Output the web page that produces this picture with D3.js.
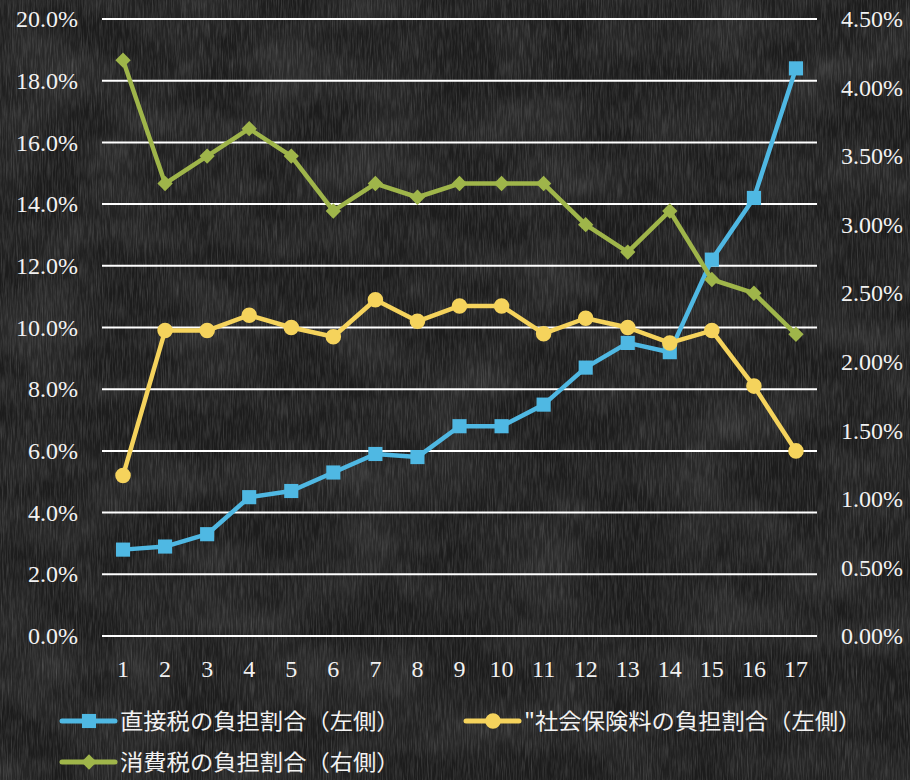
<!DOCTYPE html>
<html>
<head>
<meta charset="utf-8">
<script src="https://cdn.jsdelivr.net/npm/d3@7"></script>
<style>
  html, body { margin: 0; padding: 0; background: #1c1c1c; }
  svg { display: block; }
</style>
</head>
<body>
<svg id="chart" width="910" height="780"></svg>
<script>
// Categories along the x axis
const categories = ["1","2","3","4","5","6","7","8","9","10","11","12","13","14","15","16","17"];

// Share of direct taxes (left axis, %)
const directTax = [2.8, 2.9, 3.3, 4.5, 4.7, 5.3, 5.9, 5.8, 6.8, 6.8, 7.5, 8.7, 9.5, 9.2, 12.2, 14.2, 18.4];
// Share of social insurance premiums (left axis, %)
const socialInsurance = [5.2, 9.9, 9.9, 10.4, 10.0, 9.7, 10.9, 10.2, 10.7, 10.7, 9.8, 10.3, 10.0, 9.5, 9.9, 8.1, 6.0];
// Share of consumption tax (right axis, %)
const consumptionTax = [4.2, 3.3, 3.5, 3.7, 3.5, 3.1, 3.3, 3.2, 3.3, 3.3, 3.3, 3.0, 2.8, 3.1, 2.6, 2.5, 2.2];

// Axis ticks
const leftTicks = [0, 2, 4, 6, 8, 10, 12, 14, 16, 18, 20];
const rightTicks = [0, 0.5, 1, 1.5, 2, 2.5, 3, 3.5, 4, 4.5];

// Legend entries
const seriesNames = ["直接税の負担割合（左側）", "\"社会保険料の負担割合（左側）", "消費税の負担割合（右側）"];

const W = 910, H = 780;
const plot = { left: 102, right: 817, top: 19, bottom: 636 };

const svg = d3.select("#chart");

// Chalkboard background with a fine grain
const defs = svg.append("defs");
const grain = defs.append("filter").attr("id", "grain").attr("x", 0).attr("y", 0).attr("width", "100%").attr("height", "100%");
grain.append("feTurbulence").attr("type", "fractalNoise").attr("baseFrequency", "0.8 0.05").attr("numOctaves", 3).attr("seed", 7).attr("result", "noise");
grain.append("feColorMatrix").attr("in", "noise").attr("type", "matrix")
  .attr("values", "0 0 0 0 1  0 0 0 0 1  0 0 0 0 1  1.2 0 0 0 -0.45");
const mottle = defs.append("filter").attr("id", "mottle").attr("x", 0).attr("y", 0).attr("width", "100%").attr("height", "100%");
mottle.append("feTurbulence").attr("type", "fractalNoise").attr("baseFrequency", "0.012 0.02").attr("numOctaves", 2).attr("seed", 3).attr("result", "noise");
mottle.append("feColorMatrix").attr("in", "noise").attr("type", "matrix")
  .attr("values", "0 0 0 0 1  0 0 0 0 1  0 0 0 0 1  1.4 0 0 0 -0.5");
svg.append("rect").attr("width", W).attr("height", H).attr("fill", "#1c1c1c");
svg.append("rect").attr("width", W).attr("height", H).attr("filter", "url(#mottle)").attr("opacity", 0.12);
svg.append("rect").attr("width", W).attr("height", H).attr("filter", "url(#grain)").attr("opacity", 0.24);

const x = d3.scaleBand().domain(categories).range([plot.left, plot.right]);
const yL = d3.scaleLinear().domain([0, 20]).range([plot.bottom, plot.top]);
const yR = d3.scaleLinear().domain([0, 4.5]).range([plot.bottom, plot.top]);

const serif = "'Liberation Serif', 'DejaVu Serif', serif";
const cjk = "'Noto Sans CJK JP', 'Noto Sans', sans-serif";
const tickFont = "24px";

// Gridlines
svg.append("g").selectAll("line").data(leftTicks).join("line")
  .attr("x1", plot.left).attr("x2", plot.right)
  .attr("y1", d => yL(d)).attr("y2", d => yL(d))
  .attr("stroke", "#ffffff").attr("stroke-width", 2);

// Left axis
const axL = svg.append("g").attr("transform", `translate(${plot.left - 24},0)`)
  .call(d3.axisLeft(yL).tickValues(leftTicks).tickFormat(d => d.toFixed(1) + "%").tickSize(0).tickPadding(0));
axL.select(".domain").remove();
axL.selectAll("text").attr("fill", "#f2f2f2").style("font-family", serif).style("font-size", tickFont);

// Right axis
const axR = svg.append("g").attr("transform", `translate(${plot.right + 24},0)`)
  .call(d3.axisRight(yR).tickValues(rightTicks).tickFormat(d => d.toFixed(2) + "%").tickSize(0).tickPadding(0));
axR.select(".domain").remove();
axR.selectAll("text").attr("fill", "#f2f2f2").style("font-family", serif).style("font-size", tickFont);

// Bottom axis
const axB = svg.append("g").attr("transform", `translate(0,${plot.bottom + 24})`)
  .call(d3.axisBottom(x).tickSize(0).tickPadding(0));
axB.select(".domain").remove();
axB.selectAll("text").attr("fill", "#f2f2f2").attr("dy", "0.71em").style("font-family", serif).style("font-size", tickFont);

const cx = d => x(d) + x.bandwidth() / 2;

const series = [
  { name: seriesNames[0], values: directTax, y: yL, color: "#4fb8e3", marker: "square" },
  { name: seriesNames[1], values: socialInsurance, y: yL, color: "#f5d35c", marker: "circle" },
  { name: seriesNames[2], values: consumptionTax, y: yR, color: "#9fb54a", marker: "diamond" }
];

const symbolFor = m => m === "square" ? d3.symbol().type(d3.symbolSquare).size(200)
  : m === "circle" ? d3.symbol().type(d3.symbolCircle).size(190)
  : d3.symbol().type(d3.symbolDiamond2).size(150);

series.forEach(s => {
  const g = svg.append("g");
  const line = d3.line().x((d, i) => cx(categories[i])).y(d => s.y(d));
  g.append("path").datum(s.values).attr("d", line)
    .attr("fill", "none").attr("stroke", s.color).attr("stroke-width", 4.5)
    .attr("stroke-linejoin", "round").attr("stroke-linecap", "round");
  g.selectAll("path.mk").data(s.values).join("path").attr("class", "mk")
    .attr("transform", (d, i) => `translate(${cx(categories[i])},${s.y(d)})`)
    .attr("d", symbolFor(s.marker)).attr("fill", s.color);
});

// Legend
const legendPos = [[62, 721], [466, 721], [62, 762]];
series.forEach((s, i) => {
  const [lx, ly] = legendPos[i];
  const g = svg.append("g").attr("transform", `translate(${lx},${ly})`);
  g.append("line").attr("x1", 0).attr("x2", 53).attr("y1", 0).attr("y2", 0)
    .attr("stroke", s.color).attr("stroke-width", 5).attr("stroke-linecap", "round");
  g.append("path").attr("transform", "translate(27,0)").attr("d", symbolFor(s.marker)).attr("fill", s.color);
  g.append("text").attr("transform", "translate(58,0) scale(1.06,1)").attr("dy", "0.35em")
    .attr("fill", "#f2f2f2").style("font-family", cjk).style("font-size", "22px")
    .text(s.name);
});
</script>
</body>
</html>
